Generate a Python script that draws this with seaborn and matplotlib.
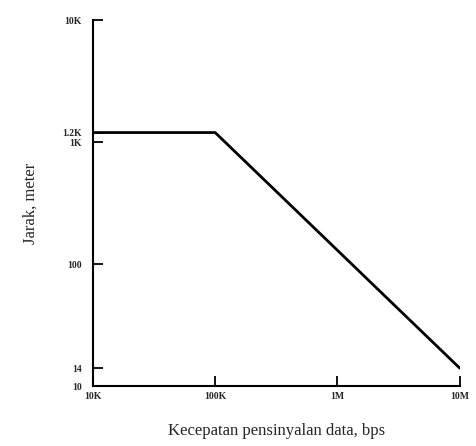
import matplotlib
matplotlib.use("Agg")
import matplotlib.pyplot as plt
import seaborn as sns
import pandas as pd

speed_bps = [1e4, 1e5, 1e7]
distance_m = [1200, 1200, 14]
xticks = [1e4, 1e5, 1e6, 1e7]
xticklabels = ["10K", "100K", "1M", "10M"]
yticks = [10, 14, 100, 1000, 1200, 10000]
yticklabels = ["10", "14", "100", "1K", "1.2K", "10K"]

sns.set_theme(style="white")
plt.rcParams['font.family'] = ['Liberation Serif', 'DejaVu Serif']

df = pd.DataFrame({"speed": speed_bps, "dist": distance_m})

fig = plt.figure(figsize=(4.76, 4.46), dpi=100)
ax = fig.add_axes([0.195, 0.1345, 0.771, 0.82])
sns.lineplot(data=df, x="speed", y="dist", ax=ax, color="black", linewidth=2)
ax.set_xscale("log")
ax.set_yscale("log")
ax.set_xlim(1e4, 1e7)
ax.set_ylim(10, 10000)
ax.set_xticks(xticks)
ax.set_xticklabels(xticklabels, fontsize=7, fontweight="bold")
ax.set_yticks(yticks)
ax.set_yticklabels(yticklabels, fontsize=7, fontweight="bold")
ax.minorticks_off()
ax.tick_params(axis="x", bottom=True, direction="in", length=7, width=1.3, color="black", pad=4)
ax.tick_params(axis="y", left=True, direction="in", length=7, width=1.3, color="black", pad=8)
for s in ["top", "right"]:
    ax.spines[s].set_visible(False)
for s in ["left", "bottom"]:
    ax.spines[s].set_color("black")
    ax.spines[s].set_linewidth(1.5)
ax.set_xlabel("Kecepatan pensinyalan data, bps", fontsize=12, labelpad=16)
ax.set_ylabel("Jarak, meter", fontsize=12, labelpad=17)
fig.savefig("out.png", dpi=100, facecolor="white")
